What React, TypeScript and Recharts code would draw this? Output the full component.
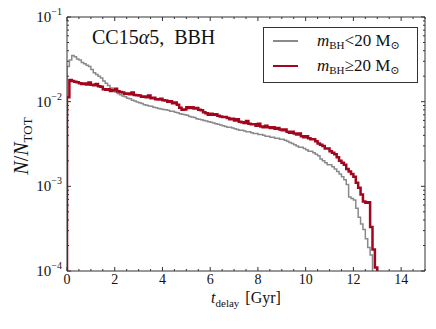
import { Legend, Line, LineChart, XAxis, YAxis } from "recharts";

// step histogram, bins of 0.1 Gyr starting at t = 0
const BIN_WIDTH = 0.1;
const FLOOR = 1e-4;

const lightValues = [
  0.026, 0.031, 0.035, 0.034, 0.032, 0.031, 0.029, 0.028, 0.027, 0.026,
  0.024, 0.022, 0.021, 0.020, 0.019, 0.0175, 0.0165, 0.0155, 0.0145, 0.0138,
  0.0130, 0.0125, 0.0121, 0.0117, 0.0114, 0.0110, 0.0108, 0.0104, 0.0102, 0.0099,
  0.0097, 0.0095, 0.0092, 0.0091, 0.0089, 0.0088, 0.0086, 0.0085, 0.0083, 0.0082,
  0.0081, 0.0080, 0.0079, 0.0077, 0.0077, 0.0075, 0.0074, 0.0072, 0.0071, 0.0070,
  0.0069, 0.0067, 0.0066, 0.0065, 0.0063, 0.0062, 0.0061, 0.0060, 0.0059, 0.0058,
  0.0057, 0.0056, 0.0055, 0.0054, 0.0053, 0.0052, 0.0051, 0.0050, 0.0050, 0.0049,
  0.0048, 0.0047, 0.0046, 0.0046, 0.0045, 0.0044, 0.0044, 0.0043, 0.0042, 0.0042,
  0.0041, 0.0041, 0.0040, 0.0039, 0.0039, 0.0038, 0.0038, 0.0037, 0.0037, 0.0036,
  0.0036, 0.0035, 0.0034, 0.0033, 0.0032, 0.0031, 0.0030, 0.0029, 0.0029, 0.0028,
  0.0027, 0.0026, 0.0026, 0.0025, 0.0024, 0.0023, 0.0021, 0.0020, 0.0019, 0.0018,
  0.0018, 0.0017, 0.0016, 0.0015, 0.0014, 0.0013, 0.0012, 0.00105, 0.00075, 0.00072,
  0.00069, 0.00055, 0.00043, 0.00036, 0.00031, 0.00024, 0.00019, 0.000155,
];

const heavyValues = [
  0.0113, 0.0180, 0.0176, 0.0172, 0.0170, 0.0165, 0.0162, 0.0164, 0.0160, 0.0168,
  0.0158, 0.0156, 0.0162, 0.0152, 0.0150, 0.0140, 0.0138, 0.0140, 0.0134, 0.0136,
  0.0142, 0.0133, 0.0130, 0.0128, 0.0124, 0.0125, 0.0122, 0.0128, 0.0120, 0.0119,
  0.0118, 0.0114, 0.0115, 0.0113, 0.0118, 0.0110, 0.0111, 0.0107, 0.0106, 0.0108,
  0.0104, 0.0103, 0.0100, 0.0101, 0.0096, 0.0098, 0.0092, 0.0085, 0.0080, 0.0081,
  0.0086, 0.0084, 0.0086, 0.0083, 0.0084, 0.0080, 0.0079, 0.0075, 0.0073, 0.0070,
  0.0072, 0.0070, 0.0071, 0.0068, 0.0067, 0.0066, 0.0066, 0.0064, 0.0062, 0.0063,
  0.0060, 0.0062, 0.0058, 0.0057, 0.0056, 0.0059, 0.0055, 0.0054, 0.0054, 0.0052,
  0.0055, 0.0051, 0.0050, 0.0052, 0.0050, 0.0049, 0.0050, 0.0048, 0.0049, 0.0047,
  0.0046, 0.0047, 0.0044, 0.0043, 0.0044, 0.0042, 0.0041, 0.0042, 0.0039, 0.0038,
  0.0039, 0.0037, 0.0036, 0.0036, 0.0034, 0.0032, 0.0031, 0.0030, 0.0028, 0.0028,
  0.0026, 0.0025, 0.0024, 0.0022, 0.0020, 0.0019, 0.0018, 0.0016, 0.0015, 0.0014,
  0.0013, 0.0011, 0.00096, 0.00080, 0.00066, 0.00064, 0.00065, 0.00033, 0.00018, 0.00011,
];

const xTicks = [0, 2, 4, 6, 8, 10, 12, 14];
const xMinorStep = 0.5;
const yDecades = [1e-4, 1e-3, 1e-2, 1e-1];
const yMinorMultipliers = [2, 3, 4, 5, 6, 7, 8, 9];

const AXIS = "#333333";
const GRAY = "#8a8a8a";
const RED = "#a3061c";
const SERIF = "Liberation Serif, DejaVu Serif, serif";
const serif = { fontFamily: SERIF };

const toSteps = (values: number[]) => {
  const pts = [{ t: 0, v: FLOOR }];
  values.forEach((v, i) => pts.push({ t: +(i * BIN_WIDTH).toFixed(2), v }));
  pts.push({ t: +(values.length * BIN_WIDTH).toFixed(2), v: FLOOR });
  return pts;
};

const allXTicks: number[] = [];
for (let t = 0; t <= 15; t += xMinorStep) allXTicks.push(t);

const allYTicks: number[] = [];
yDecades.forEach((d, i) => {
  allYTicks.push(d);
  if (i < yDecades.length - 1) yMinorMultipliers.forEach((m) => allYTicks.push(+(m * d).toPrecision(3)));
});

const isMajorX = (v: number) => xTicks.includes(v);
const isDecade = (v: number) => {
  const l = Math.log10(v);
  return Math.abs(l - Math.round(l)) < 1e-6;
};

const BottomTick = (props: any) => {
  const { x, y, payload } = props;
  const major = isMajorX(payload.value);
  return (
    <g>
      <line x1={x} x2={x} y1={y} y2={y - (major ? 4 : 2)} stroke={AXIS} />
      {major && (
        <text x={x} y={y + 13} textAnchor="middle" fontSize={14} style={serif} fill="#111">
          {payload.value}
        </text>
      )}
    </g>
  );
};

const TopTick = (props: any) => {
  const { x, y, payload } = props;
  const major = isMajorX(payload.value);
  return <line x1={x} x2={x} y1={y} y2={y + (major ? 4 : 2)} stroke={AXIS} />;
};

const LeftTick = (props: any) => {
  const { x, y, payload } = props;
  const major = isDecade(payload.value);
  const exp = Math.round(Math.log10(payload.value));
  return (
    <g>
      <line x1={x} x2={x + (major ? 4 : 2)} y1={y} y2={y} stroke={AXIS} />
      {major && (
        <text x={x - 5} y={y + 5} textAnchor="end" fontSize={15} style={serif} fill="#111">
          10
          <tspan dy={-7} fontSize={10}>
            {"\u2212" + Math.abs(exp)}
          </tspan>
        </text>
      )}
    </g>
  );
};

const RightTick = (props: any) => {
  const { x, y, payload } = props;
  const major = isDecade(payload.value);
  return <line x1={x} x2={x - (major ? 4 : 2)} y1={y} y2={y} stroke={AXIS} />;
};

const LegendBox = () => (
  <div
    style={{
      border: `1px solid ${AXIS}`,
      background: "#fff",
      width: 153,
      height: 54,
      fontFamily: SERIF,
      fontSize: 17,
      color: "#111",
      position: "relative",
    }}
  >
    {[
      { color: GRAY, width: 1.5, sign: "<", top: 13 },
      { color: RED, width: 2.5, sign: "\u2265", top: 38 },
    ].map((e) => (
      <div key={e.sign} style={{ position: "absolute", left: 0, top: e.top - 10, height: 20, width: 153 }}>
        <div
          style={{
            position: "absolute",
            left: 9,
            top: 10 - e.width / 2,
            width: 25,
            height: e.width,
            background: e.color,
          }}
        />
        <div style={{ position: "absolute", left: 53, top: 0, whiteSpace: "nowrap", lineHeight: "20px" }}>
          <i>m</i>
          <sub style={{ fontSize: 11, verticalAlign: "-3px" }}>BH</sub>
          {e.sign}20 M
          <sub style={{ fontSize: 11, verticalAlign: "-3px" }}>{"\u2299"}</sub>
        </div>
      </div>
    ))}
  </div>
);

export default function App() {
  const lightPoints = toSteps(lightValues);
  const heavyPoints = toSteps(heavyValues);

  return (
    <div style={{ position: "absolute", left: 0, top: 0, width: 436, height: 329, background: "#fff" }}>
      <LineChart width={436} height={329} margin={{ top: 16, right: 10, bottom: 57, left: 66 }}>
        <XAxis
          xAxisId="bottom"
          type="number"
          dataKey="t"
          domain={[0, 15]}
          allowDataOverflow
          ticks={allXTicks}
          interval={0}
          tickSize={0}
          tickMargin={0}
          tickLine={false}
          tick={BottomTick}
          height={1}
          stroke={AXIS}
        />
        <XAxis
          xAxisId="top"
          orientation="top"
          type="number"
          dataKey="t"
          domain={[0, 15]}
          allowDataOverflow
          ticks={allXTicks}
          interval={0}
          tickSize={0}
          tickMargin={0}
          tickLine={false}
          tick={TopTick}
          height={1}
          stroke={AXIS}
        />
        <YAxis
          yAxisId="left"
          type="number"
          scale="log"
          domain={[1e-4, 1e-1]}
          allowDataOverflow
          ticks={allYTicks}
          interval={0}
          tickSize={0}
          tickMargin={0}
          tickLine={false}
          tick={LeftTick}
          width={1}
          stroke={AXIS}
        />
        <YAxis
          yAxisId="right"
          orientation="right"
          type="number"
          scale="log"
          domain={[1e-4, 1e-1]}
          allowDataOverflow
          ticks={allYTicks}
          interval={0}
          tickSize={0}
          tickMargin={0}
          tickLine={false}
          tick={RightTick}
          width={1}
          stroke={AXIS}
        />
        <Line
          xAxisId="bottom"
          yAxisId="left"
          data={lightPoints}
          dataKey="v"
          type="stepAfter"
          stroke={GRAY}
          strokeWidth={1.5}
          dot={false}
          isAnimationActive={false}
        />
        <Line
          xAxisId="bottom"
          yAxisId="left"
          data={heavyPoints}
          dataKey="v"
          type="stepAfter"
          stroke={RED}
          strokeWidth={2.5}
          dot={false}
          isAnimationActive={false}
        />
        <Legend
          layout="vertical"
          align="center"
          verticalAlign="middle"
          content={LegendBox}
          wrapperStyle={{ left: 263, top: 27, width: 155, height: 56 }}
        />
      </LineChart>
      <div
        style={{
          position: "absolute",
          left: 92,
          top: 26,
          fontFamily: SERIF,
          fontSize: 20,
          color: "#111",
          whiteSpace: "pre",
          lineHeight: "22px",
        }}
      >
        CC15<i>α</i>5,  BBH
      </div>
      <svg
        width={436}
        height={329}
        style={{ position: "absolute", left: 0, top: 0, pointerEvents: "none", fontFamily: SERIF }}
      >
        <text x={246} y={303} textAnchor="middle" fontSize={16} fill="#111">
          <tspan fontStyle="italic">t</tspan>
          <tspan fontSize={11} dy={4}>delay</tspan>
          <tspan dy={-4} dx={6}>[Gyr]</tspan>
        </text>
        <text x={28} y={146} transform="rotate(-90 28 146)" textAnchor="middle" fontSize={20} fill="#111">
          <tspan fontStyle="italic">N</tspan>/<tspan fontStyle="italic">N</tspan>
          <tspan fontSize={13} dy={4}>TOT</tspan>
        </text>
      </svg>
    </div>
  );
}
